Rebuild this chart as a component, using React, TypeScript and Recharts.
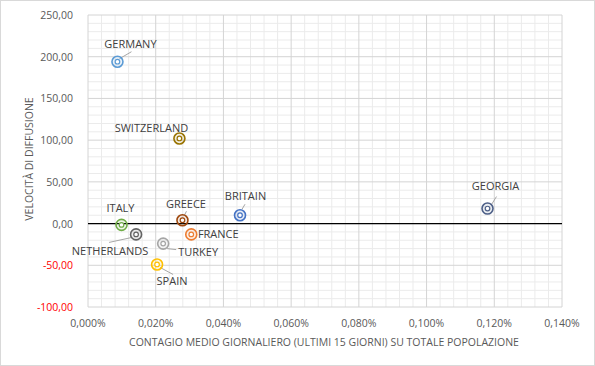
import React from "react";
import { ScatterChart, Scatter, XAxis, YAxis, ReferenceLine } from "recharts";

const countries = ["GERMANY", "SWITZERLAND", "ITALY", "NETHERLANDS", "GREECE", "FRANCE", "TURKEY", "SPAIN", "BRITAIN", "GEORGIA"];
const contagio = [0.0087, 0.027, 0.0099, 0.0142, 0.0279, 0.0305, 0.0222, 0.0204, 0.0449, 0.118];
const velocita = [194, 102, -1.6, -13, 4, -13, -24, -49, 10, 18];
const colors = ["#5b9bd5", "#997300", "#70ad47", "#636363", "#9e480e", "#ed7d31", "#a5a5a5", "#ffc000", "#4472c4", "#4d5f87"];

const xTicks = [0, 0.02, 0.04, 0.06, 0.08, 0.1, 0.12, 0.14];
const yTicks = [-100, -50, 0, 50, 100, 150, 200, 250];
const xMinor: number[] = [];
for (let i = 1; i < 35; i++) if (i % 5 !== 0) xMinor.push(i * 0.004);
const yMinor: number[] = [];
for (let v = -90; v < 250; v += 10) if (v % 50 !== 0) yMinor.push(v);

// label layout: text centre offset and leader line offsets relative to point
const labelLayout: Record<string, { dx: number; dy: number; leader?: [number, number, number, number] }> = {
  GERMANY: { dx: 13, dy: -18, leader: [2, -3, 14, -10] },
  SWITZERLAND: { dx: -28, dy: -11 },
  ITALY: { dx: -1, dy: -17 },
  NETHERLANDS: { dx: -26, dy: 16, leader: [-27, 8, -4, 3] },
  GREECE: { dx: 3.5, dy: -17, leader: [2, -5, 4, -9] },
  FRANCE: { dx: 27, dy: -1 },
  TURKEY: { dx: 35, dy: 8, leader: [4, 5, 13, 6] },
  SPAIN: { dx: 15, dy: 16, leader: [3, 3, 16, 10] },
  BRITAIN: { dx: 5.5, dy: -20, leader: [2, -6, 5, -11] },
  GEORGIA: { dx: 8, dy: -23, leader: [4, -4, 9, -12] },
};

const data = countries.map((name, i) => ({ name, x: contagio[i], y: velocita[i], color: colors[i] }));

const FONT = "'Open Sans', sans-serif";
const TEXT = "#404040";
const TICK = "#595959";

const fmtX = (v: number) => v.toFixed(3).replace(".", ",") + "%";
const fmtY = (v: number) => v.toFixed(2).replace(".", ",");

const Marker = (props: any) => {
  const { cx, cy, payload } = props;
  const lay = labelLayout[payload.name];
  const c = payload.color;
  return (
    <g>
      {lay.leader && (
        <line x1={cx + lay.leader[0]} y1={cy + lay.leader[1]} x2={cx + lay.leader[2]} y2={cy + lay.leader[3]} stroke="#a6a6a6" strokeWidth={1} />
      )}
      <circle cx={cx} cy={cy} r={5.5} fill={c} fillOpacity={0.12} stroke={c} strokeWidth={1.6} />
      <circle cx={cx} cy={cy} r={2.3} fill="#ffffff" stroke={c} strokeWidth={1.2} />
      <text x={cx + lay.dx} y={cy + lay.dy} textAnchor="middle" dominantBaseline="central" fontFamily={FONT} fontSize={11} fill={TEXT}>
        {payload.name}
      </text>
    </g>
  );
};

const XTick = (props: any) => {
  const { x, payload } = props;
  return (
    <text x={x} y={323} textAnchor="middle" dominantBaseline="central" fontFamily={FONT} fontSize={10.5} fill={TICK}>
      {fmtX(payload.value)}
    </text>
  );
};

const YTick = (props: any) => {
  const { y, payload } = props;
  return (
    <text x={73} y={y} textAnchor="end" dominantBaseline="central" fontFamily={FONT} fontSize={10.5} fill={payload.value < 0 ? "#ff0000" : TICK}>
      {fmtY(payload.value)}
    </text>
  );
};

export default function App() {
  return (
    <div style={{ position: "absolute", left: 0, top: 0, width: 595, height: 366, background: "#fff" }}>
      <ScatterChart width={595} height={366} margin={{ top: 15, right: 33, bottom: 0, left: 0 }}>
        {xMinor.map((v) => (
          <ReferenceLine key={"xm" + v} x={v} stroke="#ebebeb" strokeWidth={1} />
        ))}
        {yMinor.map((v) => (
          <ReferenceLine key={"ym" + v} y={v} stroke="#ebebeb" strokeWidth={1} />
        ))}
        {xTicks.map((v) => (
          <ReferenceLine key={"xM" + v} x={v} stroke="#d4d4d4" strokeWidth={1} />
        ))}
        {yTicks.map((v) => (
          <ReferenceLine key={"yM" + v} y={v} stroke="#d4d4d4" strokeWidth={1} />
        ))}
        <ReferenceLine y={0} stroke="#000000" strokeWidth={1.3} />
        <XAxis
          type="number"
          dataKey="x"
          domain={[0, 0.14]}
          ticks={xTicks}
          axisLine={false}
          tickLine={false}
          height={59}
          tick={<XTick />}
          interval={0}
          label={{
            content: () => (
              <text x={324} y={342} textAnchor="middle" dominantBaseline="central" fontFamily={FONT} fontSize={10.5} fill={TICK}>
                CONTAGIO MEDIO GIORNALIERO (ULTIMI 15 GIORNI) SU TOTALE POPOLAZIONE
              </text>
            ),
          }}
        />
        <YAxis
          type="number"
          dataKey="y"
          domain={[-100, 250]}
          ticks={yTicks}
          axisLine={false}
          tickLine={false}
          width={88}
          tick={<YTick />}
          interval={0}
          label={{
            content: () => (
              <text x={29} y={159} transform="rotate(-90 29 159)" textAnchor="middle" dominantBaseline="central" fontFamily={FONT} fontSize={10.5} fill={TICK}>
                VELOCITÀ DI DIFFUSIONE
              </text>
            ),
          }}
        />
        <Scatter data={data} shape={<Marker />} isAnimationActive={false} />
      </ScatterChart>
      <div style={{ position: "absolute", left: 0, top: 0, width: 595, height: 366, boxSizing: "border-box", border: "1px solid #d9d9d9", pointerEvents: "none" }} />
    </div>
  );
}
